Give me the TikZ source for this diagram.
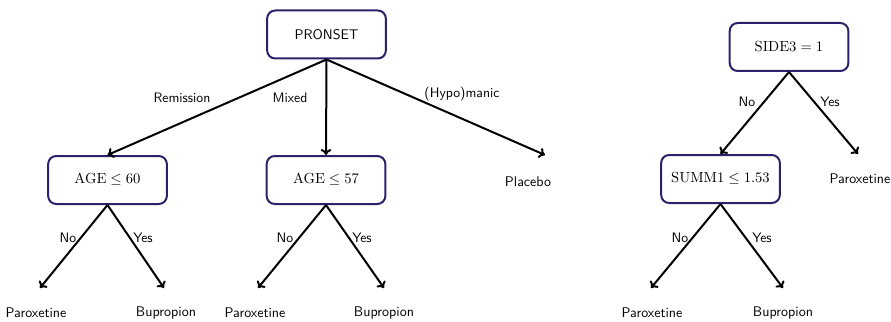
\documentclass[tikz,border=0pt]{standalone}
\usetikzlibrary{arrows.meta}
\definecolor{boxc}{RGB}{44,34,108}
\begin{document}
\begin{tikzpicture}[x=0.75pt,y=-0.75pt,
  split/.style={draw=boxc,line width=1.5pt,rounded corners=6pt,fill=white,
    minimum width=89pt,minimum height=36pt,inner sep=2pt,font=\fontsize{10.5}{12}\selectfont},
  leaf/.style={font=\sffamily\fontsize{10.5}{12}\selectfont,inner sep=1pt},
  lab/.style={font=\sffamily\fontsize{10.3}{12}\selectfont,inner sep=1pt},
  edge/.style={line width=1.5pt,-{To[length=4.5pt,width=8pt]}}]
\useasboundingbox (0,0) rectangle (891,321);
% split nodes
\node[split] (pr) at (326.5,34.5) {\sffamily PRONSET};
\node[split] (a60) at (107.5,180) {$\mathrm{AGE}\leq 60$};
\node[split] (a57) at (326,180) {$\mathrm{AGE}\leq 57$};
\node[split] (s3) at (789,47) {$\mathrm{SIDE3}=1$};
\node[split] (sm) at (720.5,179) {$\mathrm{SUMM1}\leq 1.53$};
% leaves
\node[leaf] (pl) at (528,182) {Placebo};
\node[leaf] (l1) at (36,313) {Paroxetine};
\node[leaf] (l2) at (166,313) {Bupropion};
\node[leaf] (l3) at (255,313) {Paroxetine};
\node[leaf] (l4) at (384,313) {Bupropion};
\node[leaf] (l5) at (652,313) {Paroxetine};
\node[leaf] (l6) at (783,313) {Bupropion};
\node[leaf] (l7) at (860,179) {Paroxetine};
% arrow end points
\coordinate (cpl) at (545,155);
\coordinate (c1) at (40,288);
\coordinate (c2) at (164,288);
\coordinate (c3) at (258,288);
\coordinate (c4) at (384,288);
\coordinate (c5) at (651,288);
\coordinate (c6) at (783,288);
\coordinate (c7) at (858,154);
% edges
\draw[edge] (pr.south) -- (a60.north);
\draw[edge] (pr.south) -- (a57.north);
\draw[edge] (pr.south) -- (cpl);
\draw[edge] (a60.south) -- (c1);
\draw[edge] (a60.south) -- (c2);
\draw[edge] (a57.south) -- (c3);
\draw[edge] (a57.south) -- (c4);
\draw[edge] (s3.south) -- (sm.north);
\draw[edge] (s3.south) -- (c7);
\draw[edge] (sm.south) -- (c5);
\draw[edge] (sm.south) -- (c6);
% labels
\node[lab] (t1) at (182,98) {Remission};
\node[lab] (t2) at (290,98) {Mixed};
\node[lab] (t3) at (462,94) {(Hypo)manic};
\node[lab] (t4) at (68,238) {No};
\node[lab] (t5) at (143,238) {Yes};
\node[lab] (t6) at (285,238) {No};
\node[lab] (t7) at (362,238) {Yes};
\node[lab] (t8) at (680,238) {No};
\node[lab] (t9) at (762,238) {Yes};
\node[lab] (t10) at (747,102) {No};
\node[lab] (t11) at (830,102) {Yes};
\end{tikzpicture}
\end{document}
